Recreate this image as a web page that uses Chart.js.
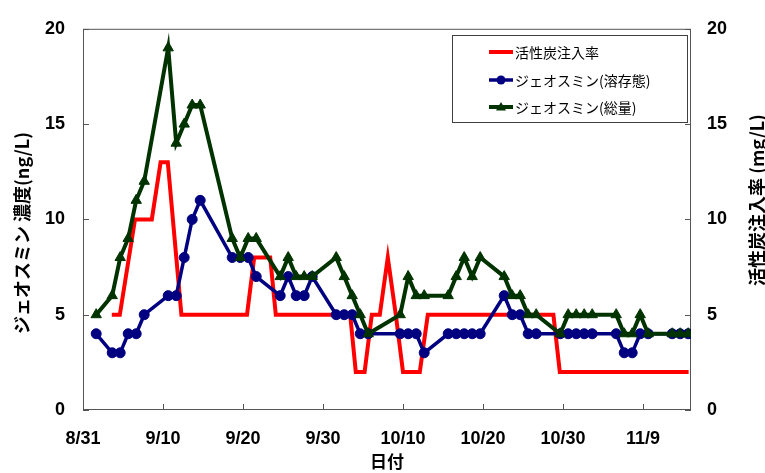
<!DOCTYPE html>
<html>
<head>
<meta charset="utf-8">
<style>
  html, body { margin: 0; padding: 0; background: #ffffff; }
  #wrap { width: 765px; height: 473px; position: relative; }
</style>
<script src="https://cdn.jsdelivr.net/npm/chart.js@4.4.1/dist/chart.umd.min.js"></script>
</head>
<body>
<div id="wrap"><canvas id="chart" width="765" height="473"></canvas></div>
<script>
// Date axis: days counted from 8/31, labelled every 10 days
const dateLabels = ['8/31', '9/10', '9/20', '9/30', '10/10', '10/20', '10/30', '11/9'];
const axisDays = 76;

// Geosmin samples (day number since 8/31), taken in the afternoon
const sampleTime = 15.6 / 24;
const sampleDays = [1, 3, 4, 5, 6, 7, 10, 11, 12, 13, 14, 18, 19, 20, 21, 24, 25, 26, 27, 28,
  31, 32, 33, 34, 35, 39, 40, 41, 42, 45, 46, 47, 48, 49, 52, 53, 54, 55, 56,
  59, 60, 61, 62, 63, 66, 67, 68, 69, 70, 73, 74, 75];
const geosminDissolved = [4, 3, 3, 4, 4, 5, 6, 6, 8, 10, 11, 8, 8, 8, 7, 6, 7, 6, 6, 7,
  5, 5, 5, 4, 4, 4, 4, 4, 3, 4, 4, 4, 4, 4, 6, 5, 5, 4, 4,
  4, 4, 4, 4, 4, 4, 3, 3, 4, 4, 4, 4, 4];
const geosminTotal = [5, 6, 8, 9, 11, 12, 19, 14, 15, 16, 16, 9, 8, 9, 9, 7, 8, 7, 7, 7,
  8, 7, 6, 5, 4, 5, 7, 6, 6, 6, 7, 8, 7, 8, 7, 6, 6, 5, 5,
  4, 5, 5, 5, 5, 5, 4, 4, 5, 4, 4, 4, 4];

// Powdered activated carbon dosing rate (mg/L) at each change point
const doseDays = [3.6, 4.6, 6.5, 8.6, 9.7, 10.6, 12.3, 20.5, 21.4, 23.4, 24.1,
  33.4, 34.1, 35.2, 36.1, 37.1, 38.1, 39.1, 40.0, 42.1, 43.1, 58.8, 59.6, 75.7];
const doseRate = [5, 5, 10, 10, 13, 13, 5, 5, 8, 8, 5,
  5, 2, 2, 5, 5, 8, 5, 2, 2, 5, 5, 2, 2];

const seriesNames = ['活性炭注入率', 'ジェオスミン(溶存態)', 'ジェオスミン(総量)'];
const axisTitles = { left: 'ジェオスミン 濃度(ng/L)', right: '活性炭注入率 (mg/L)', bottom: '日付' };

const RED = '#ff0000', NAVY = '#000080', DKGREEN = '#003300';
const FRAME = '#555555';
const TICK_FONT = { family: '"Liberation Sans", Arial, sans-serif', size: 18, weight: 'bold' };
const CJK = '"Noto Sans CJK JP", "Noto Sans", sans-serif';

const toPoints = (xs, ys, shift) => xs.map((d, i) => ({ x: d + shift, y: ys[i] }));

// Plot frame and inward-pointing tick marks
const frameTicks = {
  id: 'frameTicks',
  beforeDatasetsDraw(chart) {
    const { ctx, chartArea: a, scales } = chart;
    ctx.save();
    ctx.strokeStyle = FRAME;
    ctx.lineWidth = 1;
    ctx.beginPath();
    scales.y.ticks.forEach(t => {
      const y = Math.round(scales.y.getPixelForValue(t.value)) + 0.5;
      ctx.moveTo(a.left, y); ctx.lineTo(a.left + 6, y);
    });
    scales.y2.ticks.forEach(t => {
      const y = Math.round(scales.y2.getPixelForValue(t.value)) + 0.5;
      ctx.moveTo(a.right, y); ctx.lineTo(a.right - 6, y);
    });
    scales.x.ticks.forEach(t => {
      const x = Math.round(scales.x.getPixelForValue(t.value)) + 0.5;
      ctx.moveTo(x, a.bottom); ctx.lineTo(x, a.bottom - 6);
    });
    ctx.stroke();
    ctx.strokeRect(a.left + 0.5, a.top + 0.5, a.right - a.left - 1, a.bottom - a.top - 1);
    ctx.restore();
  }
};

// Axis titles (both vertical titles read bottom-to-top)
const axisTitlePlugin = {
  id: 'axisTitles',
  afterDraw(chart) {
    const { ctx, chartArea: a } = chart;
    ctx.save();
    ctx.fillStyle = '#000';
    ctx.textAlign = 'center';
    ctx.textBaseline = 'middle';
    ctx.font = 'bold 18px ' + CJK;
    ctx.save();
    ctx.translate(22, 233);
    ctx.rotate(-Math.PI / 2);
    ctx.fillText(axisTitles.left, 0, 0);
    ctx.restore();
    ctx.save();
    ctx.translate(757, 200);
    ctx.rotate(-Math.PI / 2);
    ctx.fillText(axisTitles.right, 0, 0);
    ctx.restore();
    ctx.font = 'bold 17px ' + CJK;
    ctx.fillText(axisTitles.bottom, (a.left + a.right) / 2, 462);
    ctx.restore();
  }
};

// Legend box drawn inside the plot area, upper right
const insetLegend = {
  id: 'insetLegend',
  afterDraw(chart) {
    const { ctx } = chart;
    const box = { x: 452, y: 35, w: 235, h: 87 };
    ctx.save();
    ctx.fillStyle = '#fff';
    ctx.fillRect(box.x, box.y, box.w, box.h);
    ctx.strokeStyle = '#404040';
    ctx.lineWidth = 1;
    ctx.strokeRect(box.x + 0.5, box.y + 0.5, box.w, box.h);
    ctx.font = '14px ' + CJK;
    ctx.textBaseline = 'middle';
    ctx.textAlign = 'left';
    const rows = [52, 80, 107];
    chart.data.datasets.forEach((ds, i) => {
      const y = rows[i];
      ctx.strokeStyle = ds.borderColor;
      ctx.lineWidth = ds.borderWidth;
      ctx.beginPath();
      ctx.moveTo(489, y); ctx.lineTo(513, y);
      ctx.stroke();
      ctx.fillStyle = ds.borderColor;
      if (ds.pointStyle === 'circle') {
        ctx.beginPath(); ctx.arc(501, y, 4.5, 0, Math.PI * 2); ctx.fill();
      } else if (ds.pointStyle === 'triangle') {
        ctx.beginPath();
        ctx.moveTo(501, y - 5); ctx.lineTo(506, y + 3.5); ctx.lineTo(496, y + 3.5);
        ctx.closePath(); ctx.fill();
      }
      ctx.fillStyle = '#000';
      ctx.fillText(ds.label, 515, y + 1);
    });
    ctx.restore();
  }
};

new Chart(document.getElementById('chart'), {
  type: 'line',
  data: {
    datasets: [
      {
        label: seriesNames[0],
        data: toPoints(doseDays, doseRate, 0),
        yAxisID: 'y2',
        borderColor: RED, backgroundColor: RED,
        borderWidth: 4, pointRadius: 0, pointHoverRadius: 0,
        tension: 0, order: 3
      },
      {
        label: seriesNames[1],
        data: toPoints(sampleDays, geosminDissolved, sampleTime),
        yAxisID: 'y',
        borderColor: NAVY, backgroundColor: NAVY,
        borderWidth: 3.5, pointStyle: 'circle', pointRadius: 5, pointBorderWidth: 1,
        tension: 0, order: 2
      },
      {
        label: seriesNames[2],
        data: toPoints(sampleDays, geosminTotal, sampleTime),
        yAxisID: 'y',
        borderColor: DKGREEN, backgroundColor: DKGREEN,
        borderWidth: 4, pointStyle: 'triangle', pointRadius: 6, pointBorderWidth: 1,
        tension: 0, order: 1
      }
    ]
  },
  options: {
    responsive: false,
    animation: false,
    devicePixelRatio: 1,
    layout: { padding: { top: 23, left: 0, right: 0, bottom: 0 } },
    plugins: { legend: { display: false }, tooltip: { enabled: false } },
    scales: {
      x: {
        type: 'linear', min: 0, max: axisDays,
        grid: { display: false, drawTicks: false },
        border: { display: false },
        ticks: {
          stepSize: 10, includeBounds: false, autoSkip: false, maxRotation: 0,
          padding: 18, color: '#000', font: TICK_FONT,
          callback: v => dateLabels[Math.round(v / 10)] ?? ''
        },
        afterFit: s => { s.height = 63; }
      },
      y: {
        position: 'left', min: 0, max: 20,
        grid: { display: false, drawTicks: false },
        border: { display: false },
        ticks: { stepSize: 5, padding: 18, color: '#000', font: TICK_FONT },
        afterFit: s => { s.width = 83; }
      },
      y2: {
        position: 'right', min: 0, max: 20,
        grid: { display: false, drawTicks: false },
        border: { display: false },
        ticks: { stepSize: 5, padding: 16, color: '#000', font: TICK_FONT },
        afterFit: s => { s.width = 74; }
      }
    }
  },
  plugins: [frameTicks, axisTitlePlugin, insetLegend]
});
</script>
</body>
</html>
